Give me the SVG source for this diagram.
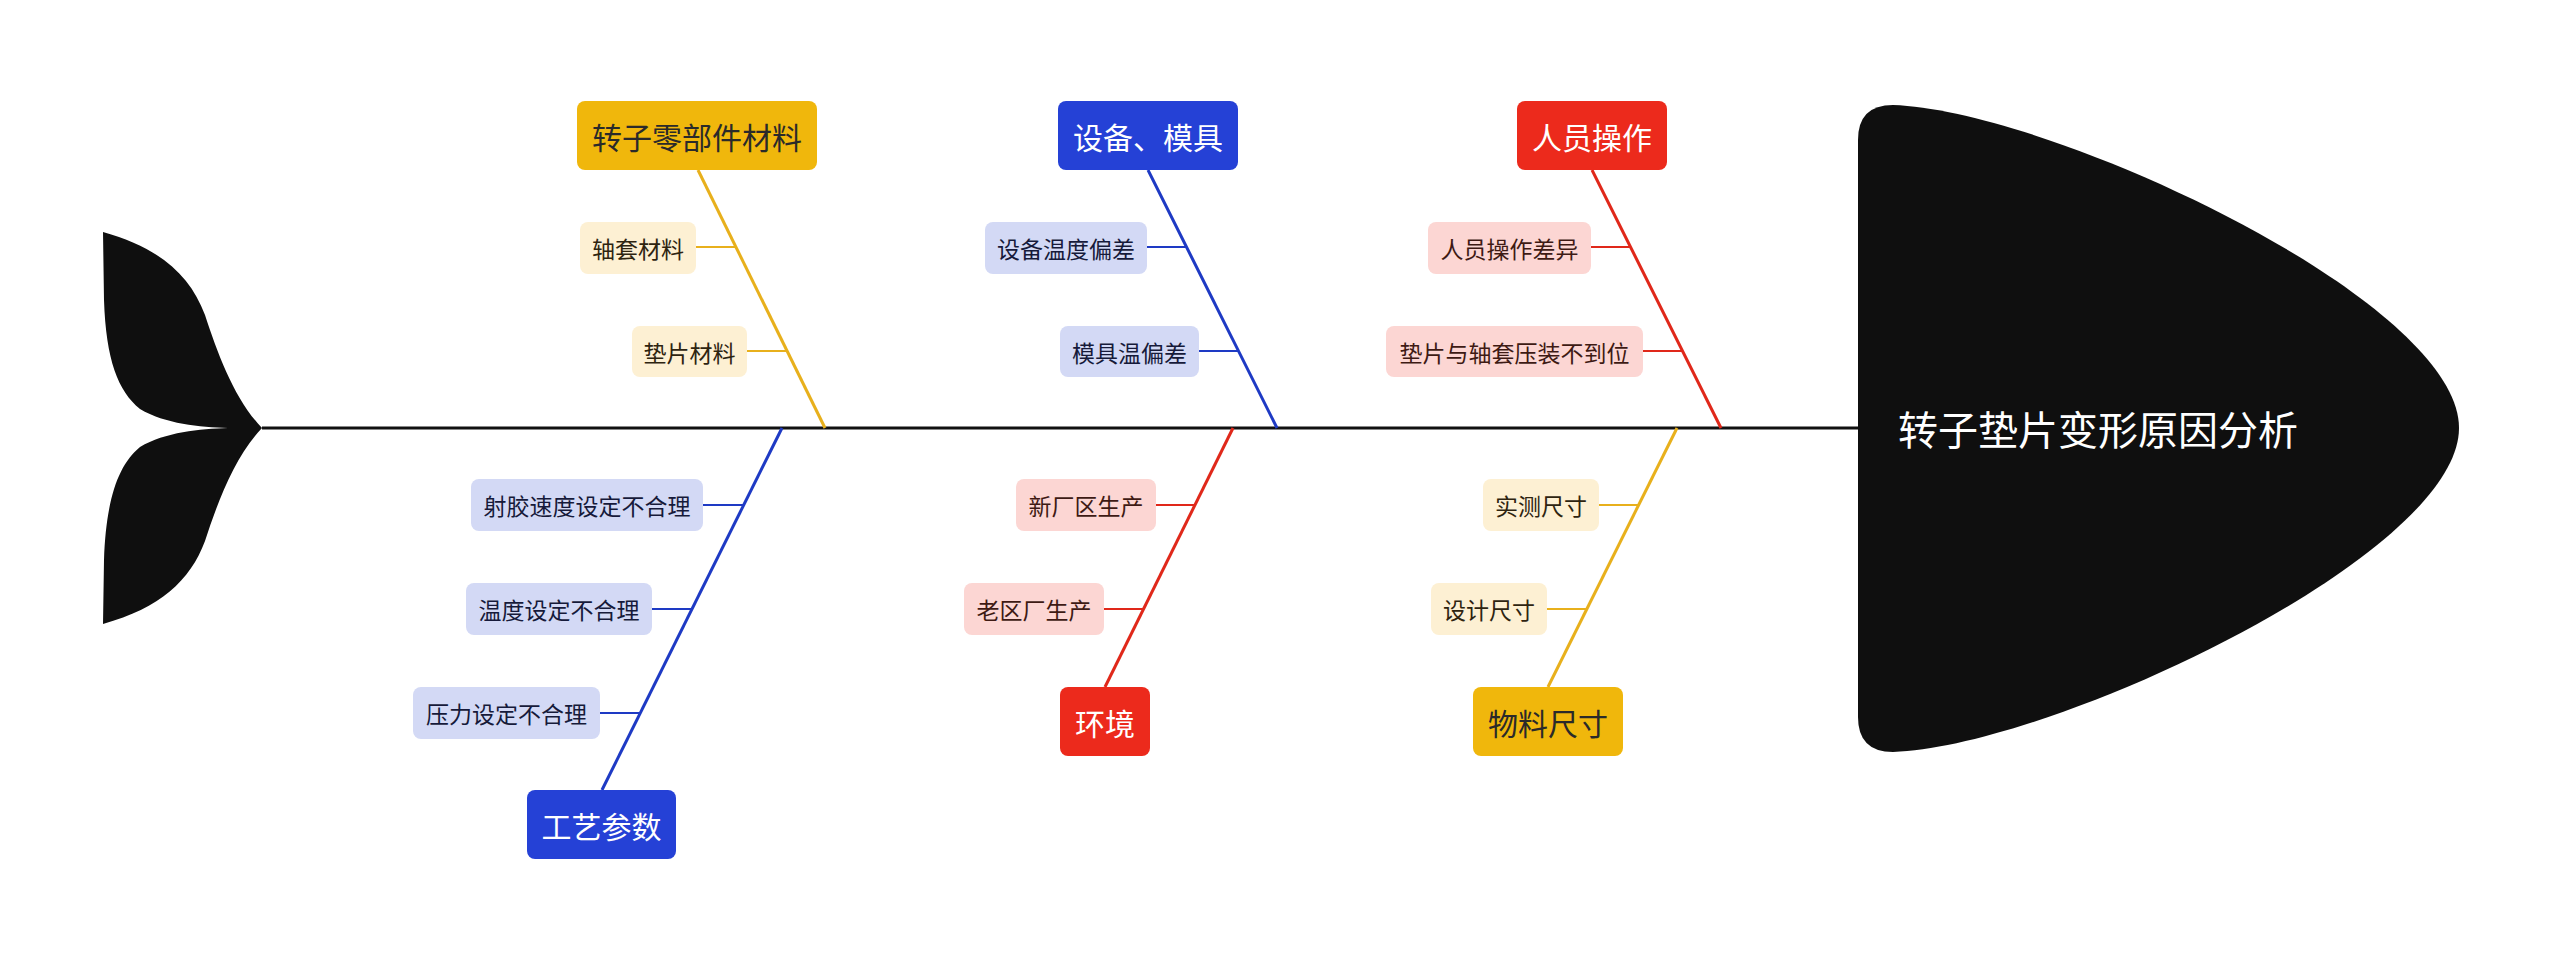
<svg xmlns="http://www.w3.org/2000/svg" width="2560" height="961" viewBox="0 0 2560 961">
<style>
text{font-family:"Noto Sans CJK SC","Noto Sans",sans-serif;text-anchor:middle;dominant-baseline:central}
.cat{font-size:30px}
.sub{font-size:23px}
.y{fill:#F0B70C}
.ys{fill:#FDF0D3}
.b{fill:#2541D6}
.bs{fill:#D3D9F5}
.r{fill:#EC2A1C}
.rs{fill:#FCD6D3}
.tw{fill:#ffffff}
.td{fill:#2a2a2a}
.tys{fill:#2e2410}
.tbs{fill:#161a3a}
.trs{fill:#3e1a14}
.ly{stroke:#E8B01C;fill:none}
.lb{stroke:#1E3AC4;fill:none}
.lr{stroke:#E0281A;fill:none}
.bone{stroke-width:3}
.twig{stroke-width:2}
</style>
<rect width="2560" height="961" fill="#ffffff"/>
<g id="tail">
<path fill="#0f0f0f" d="M103,232 C160,248 190,275 205,315 C218,355 235,400 262,428 C235,456 218,501 205,541 C190,581 160,608 103,624 L104,560 C106,500 118,465 140,447 C165,432 200,429 228,428 C200,427 165,424 140,409 C118,391 106,360 104,300 Z"/>
</g>
<g id="connectors">
<line x1="262" y1="428" x2="1860" y2="428" stroke="#111" stroke-width="3"/>
<line class="ly bone" x1="698" y1="170" x2="825" y2="428"/>
<line class="ly twig" x1="696" y1="247" x2="736" y2="247"/>
<line class="ly twig" x1="747" y1="351" x2="787" y2="351"/>
<line class="lb bone" x1="1148" y1="170" x2="1277" y2="428"/>
<line class="lb twig" x1="1147" y1="247" x2="1186" y2="247"/>
<line class="lb twig" x1="1199" y1="351" x2="1238" y2="351"/>
<line class="lr bone" x1="1592" y1="170" x2="1721" y2="428"/>
<line class="lr twig" x1="1591" y1="247" x2="1630" y2="247"/>
<line class="lr twig" x1="1643" y1="351" x2="1683" y2="351"/>
<line class="lb bone" x1="782" y1="428" x2="602" y2="790"/>
<line class="lb twig" x1="703" y1="505" x2="744" y2="505"/>
<line class="lb twig" x1="652" y1="609" x2="692" y2="609"/>
<line class="lb twig" x1="600" y1="713" x2="640" y2="713"/>
<line class="lr bone" x1="1233" y1="428" x2="1105" y2="687"/>
<line class="lr twig" x1="1156" y1="505" x2="1195" y2="505"/>
<line class="lr twig" x1="1104" y1="609" x2="1144" y2="609"/>
<line class="ly bone" x1="1677" y1="428" x2="1548" y2="687"/>
<line class="ly twig" x1="1599" y1="505" x2="1638" y2="505"/>
<line class="ly twig" x1="1547" y1="609" x2="1587" y2="609"/>
</g>
<g id="head">
<path fill="#0f0f0f" d="M1858,140 Q1858,105 1893,105 C2050,110 2459,300 2459,428 C2459,556 2050,747 1893,752 Q1858,752 1858,717 Z"/>
<text x="2098" y="428" font-size="40" fill="#ffffff">转子垫片变形原因分析</text>
</g>
<g id="cat-material">
<rect class="y" x="577" y="101" width="240" height="69" rx="8"/>
<text class="cat td" x="697" y="136">转子零部件材料</text>
</g>
<g id="sub-zhoutao">
<rect class="ys" x="580" y="222" width="116" height="52" rx="8"/>
<text class="sub tys" x="638" y="248">轴套材料</text>
</g>
<g id="sub-dianpian">
<rect class="ys" x="632" y="326" width="115" height="51" rx="8"/>
<text class="sub tys" x="689.5" y="352">垫片材料</text>
</g>
<g id="cat-equip">
<rect class="b" x="1058" y="101" width="180" height="69" rx="8"/>
<text class="cat tw" x="1148" y="136">设备、模具</text>
</g>
<g id="sub-equip-temp">
<rect class="bs" x="985" y="222" width="162" height="52" rx="8"/>
<text class="sub tbs" x="1066" y="248">设备温度偏差</text>
</g>
<g id="sub-mold-temp">
<rect class="bs" x="1060" y="326" width="139" height="51" rx="8"/>
<text class="sub tbs" x="1129.5" y="352">模具温偏差</text>
</g>
<g id="cat-people">
<rect class="r" x="1517" y="101" width="150" height="69" rx="8"/>
<text class="cat tw" x="1592" y="136">人员操作</text>
</g>
<g id="sub-people-diff">
<rect class="rs" x="1428" y="222" width="163" height="52" rx="8"/>
<text class="sub trs" x="1509.5" y="248">人员操作差异</text>
</g>
<g id="sub-press">
<rect class="rs" x="1386" y="326" width="257" height="51" rx="8"/>
<text class="sub trs" x="1514.5" y="352">垫片与轴套压装不到位</text>
</g>
<g id="cat-process">
<rect class="b" x="527" y="790" width="149" height="69" rx="8"/>
<text class="cat tw" x="601.5" y="825">工艺参数</text>
</g>
<g id="sub-speed">
<rect class="bs" x="471" y="479" width="232" height="52" rx="8"/>
<text class="sub tbs" x="587" y="505">射胶速度设定不合理</text>
</g>
<g id="sub-temp-set">
<rect class="bs" x="466" y="583" width="186" height="52" rx="8"/>
<text class="sub tbs" x="559" y="609">温度设定不合理</text>
</g>
<g id="sub-pressure-set">
<rect class="bs" x="413" y="687" width="187" height="52" rx="8"/>
<text class="sub tbs" x="506.5" y="713">压力设定不合理</text>
</g>
<g id="cat-env">
<rect class="r" x="1060" y="687" width="90" height="69" rx="8"/>
<text class="cat tw" x="1105" y="722">环境</text>
</g>
<g id="sub-new-plant">
<rect class="rs" x="1016" y="479" width="140" height="52" rx="8"/>
<text class="sub trs" x="1086" y="505">新厂区生产</text>
</g>
<g id="sub-old-plant">
<rect class="rs" x="964" y="583" width="140" height="52" rx="8"/>
<text class="sub trs" x="1034" y="609">老区厂生产</text>
</g>
<g id="cat-size">
<rect class="y" x="1473" y="687" width="150" height="69" rx="8"/>
<text class="cat td" x="1548" y="722">物料尺寸</text>
</g>
<g id="sub-measured">
<rect class="ys" x="1483" y="479" width="116" height="52" rx="8"/>
<text class="sub tys" x="1541" y="505">实测尺寸</text>
</g>
<g id="sub-design">
<rect class="ys" x="1431" y="583" width="116" height="52" rx="8"/>
<text class="sub tys" x="1489" y="609">设计尺寸</text>
</g>
</svg>
